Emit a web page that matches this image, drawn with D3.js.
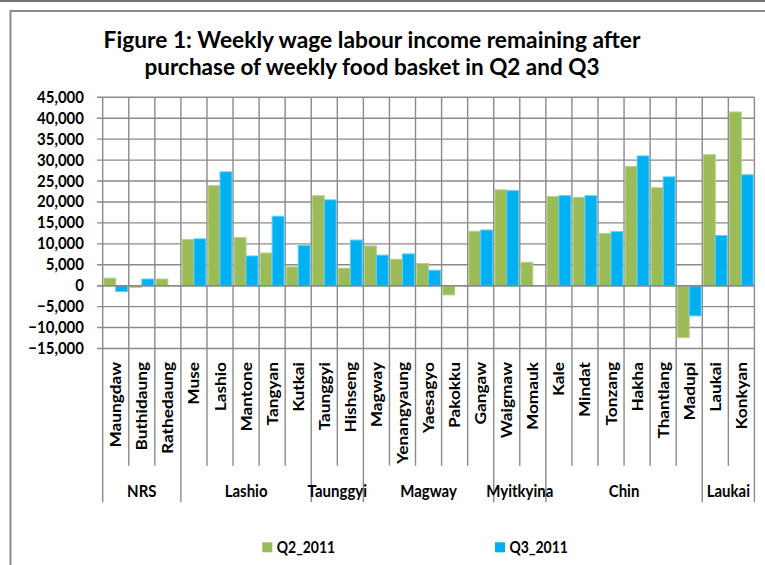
<!DOCTYPE html>
<html><head><meta charset="utf-8">
<script src="https://cdn.jsdelivr.net/npm/d3@7"></script>
<style>
html,body{margin:0;padding:0;background:#fff;}
svg{display:block;}
text{font-family:Lato,"Open Sans",sans-serif;font-weight:bold;fill:#000;}
</style></head>
<body>
<svg id="chart" width="765" height="565"></svg>
<script>
const categories = ["Maungdaw","Buthidaung","Rathedaung","Muse","Lashio","Mantone","Tangyan","Kutkai","Taunggyi","Hishseng","Magway","Yenangyaung","Yaesagyo","Pakokku","Gangaw","Waigmaw","Momauk","Kale","Mindat","Tonzang","Hakha","Thantlang","Madupi","Laukai","Konkyan"];
const groupNames = ["NRS","Lashio","Taunggyi","Magway","Myitkyina","Chin","Laukai"];
const groupSizes = [3,5,2,5,2,6,2];
const seriesNames = ["Q2_2011","Q3_2011"];
const q2 = [1800,-400,1600,11000,23900,11500,7800,4500,21500,4200,9500,6300,5300,-2200,13000,22900,5600,21300,21100,12500,28500,23400,-12400,31300,41500];
const q3 = [-1400,1600,0,11200,27200,7100,16600,9600,20500,10900,7300,7600,3700,0,13300,22700,0,21500,21500,12900,31000,26000,-7200,12000,26500];
const yTicks = [-15000,-10000,-5000,0,5000,10000,15000,20000,25000,30000,35000,40000,45000];
const titleLines = ["Figure 1: Weekly wage labour income remaining after","purchase of weekly food basket in Q2 and Q3"];
const colors = ["#9BBB59","#00B0F0"];
const strokes = ["#b8d08a","#5fcdf5"];

const svg = d3.select("#chart");
const grid = "#8a8a8a";
const L = 102.7, R = 754.4, T = 97.3, B = 348.5;
const VS = 1.15;

// frame
svg.append("line").attr("x1",0).attr("x2",765).attr("y1",1).attr("y2",1).attr("stroke","#444").attr("stroke-width",1.5);
svg.append("path").attr("d","M10.5,565 V11 H765").attr("fill","none").attr("stroke",grid).attr("stroke-width",2);

// title
const titleWidths = [537,455];
titleLines.forEach((t,i)=>{
  svg.append("text").attr("transform",`translate(372,${48+i*27}) scale(1,${VS})`)
    .attr("text-anchor","middle").attr("font-size",19)
    .attr("textLength",titleWidths[i]).attr("lengthAdjust","spacingAndGlyphs").text(t);
});

const x = d3.scaleBand().domain(categories).range([L,R]).padding(0);
const xs = d3.scaleBand().domain(seriesNames).range([0,x.bandwidth()]).paddingInner(0).paddingOuter(0.095);
const y = d3.scaleLinear().domain([-15000,45000]).range([B,T]);

// horizontal grid + ticks
const fmt = d3.format(",");
yTicks.forEach(v=>{
  svg.append("line").attr("x1",97).attr("x2",R).attr("y1",y(v)).attr("y2",y(v)).attr("stroke",grid).attr("stroke-width",1.4);
  svg.append("text").attr("transform",`translate(84,${y(v)+5.5}) scale(1,${VS})`)
    .attr("text-anchor","end").attr("font-size",15).text(v===0?"0":fmt(v));
});

// vertical grid lines at band boundaries
const bounds = categories.map(c=>x(c)).concat([R]);
const groupBoundIdx = [0];
groupSizes.reduce((a,s)=>{groupBoundIdx.push(a+s);return a+s;},0);
bounds.forEach((bx,i)=>{
  const isGroup = groupBoundIdx.includes(i);
  svg.append("line").attr("x1",bx).attr("x2",bx).attr("y1",T).attr("y2",isGroup?502.3:465.7)
    .attr("stroke",grid).attr("stroke-width",1.4);
});

// bars
[q2,q3].forEach((vals,si)=>{
  svg.append("g").selectAll("rect").data(vals).join("rect")
    .attr("x",(d,i)=>x(categories[i])+xs(seriesNames[si]))
    .attr("width",xs.bandwidth())
    .attr("y",d=>Math.min(y(d),y(0)))
    .attr("height",d=>Math.abs(y(d)-y(0)))
    .attr("fill",colors[si])
    .attr("stroke",d=>d===0?"none":strokes[si]).attr("stroke-width",1);
});
// redraw zero line on top
svg.append("line").attr("x1",97).attr("x2",R).attr("y1",y(0)).attr("y2",y(0)).attr("stroke",grid).attr("stroke-width",1.4);

// category labels
categories.forEach(c=>{
  svg.append("text").attr("transform",`translate(${x(c)+x.bandwidth()/2+5.5},362) rotate(-90) scale(${VS},1)`)
    .attr("text-anchor","end").attr("font-size",15).text(c);
});

// group labels
groupNames.forEach((g,i)=>{
  const x0 = bounds[groupBoundIdx[i]], x1 = bounds[groupBoundIdx[i+1]];
  svg.append("text").attr("transform",`translate(${(x0+x1)/2},496.5) scale(1,${VS})`)
    .attr("text-anchor","middle").attr("font-size",15).text(g);
});

// legend
const legX = [262.3,495];
seriesNames.forEach((s,i)=>{
  svg.append("rect").attr("x",legX[i]).attr("y",542.3).attr("width",10).attr("height",10).attr("fill",colors[i]);
  svg.append("text").attr("transform",`translate(${legX[i]+14.5},552.5) scale(1,${VS})`)
    .attr("font-size",14).text(s);
});
</script>
</body></html>
